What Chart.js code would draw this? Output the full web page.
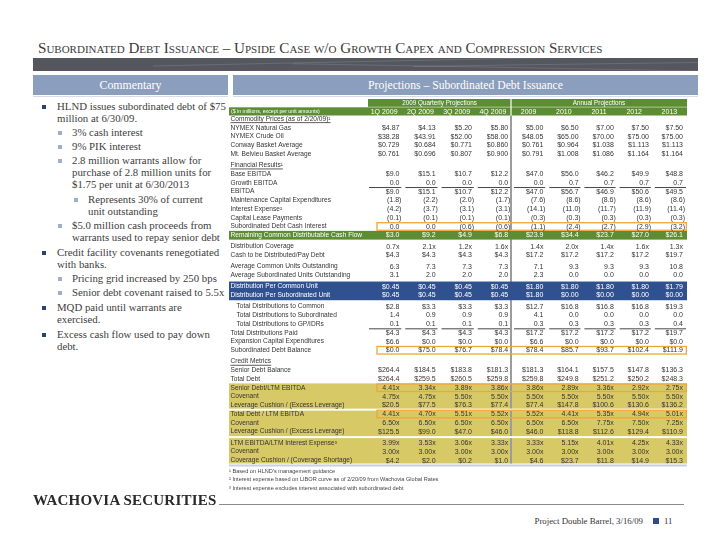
<!DOCTYPE html>
<html><head><meta charset="utf-8">
<script src="https://cdn.jsdelivr.net/npm/chart.js@4.4.1/dist/chart.umd.min.js"></script>
<style>
html,body{margin:0;padding:0;background:#fff;}
body{width:720px;height:556px;position:relative;overflow:hidden;font-family:"Liberation Serif",serif;color:#3d3d3d;}
.a{position:absolute;white-space:nowrap;}
#title{left:38px;top:41px;font-size:14px;line-height:14px;font-variant:small-caps;color:#3a3a3a;}
#band{left:33px;top:58px;width:665px;height:13px;background:#55575f;overflow:hidden;}
#band i{position:absolute;height:1px;background:rgba(255,255,255,0.13);width:420px;}
.hbox{top:75px;height:20px;background:#8b9ebd;color:#fff;text-align:center;line-height:20px;font-size:11.5px;}
.hline{top:96px;height:1px;background:#d9dce4;}
.c{position:absolute;white-space:nowrap;font-size:10.8px;line-height:11.8px;color:#3d3d3d;}
.c::before{content:"";position:absolute;width:4px;height:4px;top:4px;}
.l1{left:57px;}.l1::before{left:-15px;background:#2c4275;}
.l2{left:72px;}.l2::before{left:-14px;background:#9eaecb;}
.l3{left:88px;}.l3::before{left:-14px;background:#9eaecb;}
.fn{left:229px;font-family:"Liberation Sans",sans-serif;font-size:5.6px;line-height:7px;color:#444;}
#logo{left:33px;top:494px;font-size:13px;line-height:13px;font-weight:bold;color:#2a2a2a;letter-spacing:0.2px;}
#fline{left:219px;top:504px;width:465px;height:1px;background:#8a8a8a;}
#foot{right:77px;top:515px;font-size:8.8px;line-height:12px;color:#333;}
#fsq{left:653px;top:518px;width:6px;height:6px;background:#2f4c8c;}
#fnum{left:664px;top:515px;font-size:8.8px;line-height:12px;color:#333;}
</style></head>
<body>
<div id="title" class="a" data-w="556">Subordinated Debt Issuance – Upside Case w/o Growth Capex and Compression Services</div>
<div id="band" class="a"><i style="left:120px;top:3px;transform:rotate(-1.2deg)"></i><i style="left:260px;top:9px;transform:rotate(1deg)"></i><i style="left:380px;top:5px;transform:rotate(-0.8deg)"></i></div>
<div class="a hbox" style="left:33px;width:195px;"><span data-w="62">Commentary</span></div>
<div class="a hbox" style="left:233px;width:465px;"><span data-w="195">Projections – Subordinated Debt Issuance</span></div>
<div class="a hline" style="left:33px;width:195px;"></div>
<div class="a hline" style="left:233px;width:465px;"></div>

<div class="c l1" style="top:101px">HLND issues subordinated debt of $75<br>million at 6/30/09.</div>
<div class="c l2" style="top:127px">3% cash interest</div>
<div class="c l2" style="top:141px">9% PIK interest</div>
<div class="c l2" style="top:155px">2.8 million warrants allow for<br>purchase of 2.8 million units for<br>$1.75 per unit at 6/30/2013</div>
<div class="c l3" style="top:194px">Represents 30% of current<br>unit outstanding</div>
<div class="c l2" style="top:220px">$5.0 million cash proceeds from<br>warrants used to repay senior debt</div>
<div class="c l1" style="top:247px">Credit facility covenants renegotiated<br>with banks.</div>
<div class="c l2" style="top:273px">Pricing grid increased by 250 bps</div>
<div class="c l2" style="top:287px">Senior debt covenant raised to 5.5x</div>
<div class="c l1" style="top:302px">MQD paid until warrants are<br>exercised.</div>
<div class="c l1" style="top:329px">Excess cash flow used to pay down<br>debt.</div>

<canvas id="tbl" width="465" height="375" style="position:absolute;left:225px;top:95px;"></canvas>

<div class="a fn" style="top:467.5px">¹ Based on HLND's management guidance</div>
<div class="a fn" style="top:475.5px">² Interest expense based on LIBOR curve as of 2/20/09 from Wachovia Global Rates</div>
<div class="a fn" style="top:484.5px">³ Interest expense excludes interest associated with subordinated debt</div>

<div id="logo" class="a" data-w="184">WACHOVIA SECURITIES</div>
<div id="fline" class="a"></div>
<div id="foot" class="a">Project Double Barrel, 3/16/09</div>
<div id="fsq" class="a"></div>
<div id="fnum" class="a">11</div>

<script>
// ---------- DATA ----------
const columns = ['1Q 2009','2Q 2009','3Q 2009','4Q 2009','2009','2010','2011','2012','2013'];
const groupHeaders = ['2009 Quarterly Projections','Annual Projections'];
const unitNote = '($ in millions, except per unit amounts)';

const natGas = [4.87,4.13,5.20,5.80,5.00,6.50,7.00,7.50,7.50];
const crudeOil = [38.28,43.91,52.00,58.00,48.05,65.00,70.00,75.00,75.00];
const conwayBasket = [0.729,0.684,0.771,0.860,0.761,0.964,1.038,1.113,1.113];
const mtBelvieuBasket = [0.761,0.696,0.807,0.900,0.791,1.008,1.086,1.164,1.164];
const baseEbitda = [9.0,15.1,10.7,12.2,47.0,56.0,46.2,49.9,48.8];
const growthEbitda = [0.0,0.0,0.0,0.0,0.0,0.7,0.7,0.7,0.7];
const ebitda = [9.0,15.1,10.7,12.2,47.0,56.7,46.9,50.6,49.5];
const maintCapex = [-1.8,-2.2,-2.0,-1.7,-7.6,-8.6,-8.6,-8.6,-8.6];
const interestExpense = [-4.2,-3.7,-3.1,-3.1,-14.1,-11.0,-11.7,-11.9,-11.4];
const capitalLease = [-0.1,-0.1,-0.1,-0.1,-0.3,-0.3,-0.3,-0.3,-0.3];
const subDebtCashInterest = [0.0,0.0,-0.6,-0.6,-1.1,-2.4,-2.7,-2.9,-3.2];
const remainingCashFlow = [3.0,9.2,4.9,6.8,23.9,34.4,23.7,27.0,26.1];
const distributionCoverage = [0.7,2.1,1.2,1.6,1.4,2.0,1.4,1.6,1.3];
const cashToDistribute = [4.3,4.3,4.3,4.3,17.2,17.2,17.2,17.2,19.7];
const avgCommonUnits = [6.3,7.3,7.3,7.3,7.1,9.3,9.3,9.3,10.8];
const avgSubUnits = [3.1,2.0,2.0,2.0,2.3,0.0,0.0,0.0,0.0];
const distPerCommonUnit = [0.45,0.45,0.45,0.45,1.80,1.80,1.80,1.80,1.79];
const distPerSubUnit = [0.45,0.45,0.45,0.45,1.80,0.00,0.00,0.00,0.00];
const distToCommon = [2.8,3.3,3.3,3.3,12.7,16.8,16.8,16.8,19.3];
const distToSub = [1.4,0.9,0.9,0.9,4.1,0.0,0.0,0.0,0.0];
const distToGP = [0.1,0.1,0.1,0.1,0.3,0.3,0.3,0.3,0.4];
const distPaid = [4.3,4.3,4.3,4.3,17.2,17.2,17.2,17.2,19.7];
const expansionCapex = [6.6,0.0,0.0,0.0,6.6,0.0,0.0,0.0,0.0];
const subDebtBalance = [0.0,75.0,76.7,78.4,78.4,85.7,93.7,102.4,111.9];
const seniorDebtBalance = [264.4,184.5,183.8,181.3,181.3,164.1,157.5,147.8,136.3];
const totalDebt = [264.4,259.5,260.5,259.8,259.8,249.8,251.2,250.2,248.3];
const seniorDebtLeverage = [4.41,3.34,3.89,3.86,3.86,2.89,3.36,2.92,2.75];
const seniorCovenant = [4.75,4.75,5.50,5.50,5.50,5.50,5.50,5.50,5.50];
const seniorCushion = [20.5,77.5,76.3,77.4,77.4,147.8,100.6,130.6,136.2];
const totalDebtLeverage = [4.41,4.70,5.51,5.52,5.52,4.41,5.35,4.94,5.01];
const totalCovenant = [6.50,6.50,6.50,6.50,6.50,6.50,7.75,7.50,7.25];
const totalCushion = [125.5,99.0,47.0,46.0,46.0,118.8,112.6,129.4,110.9];
const interestCoverage = [3.99,3.53,3.06,3.33,3.33,5.15,4.01,4.25,4.33];
const coverageCovenant = [3.00,3.00,3.00,3.00,3.00,3.00,3.00,3.00,3.00];
const coverageCushion = [4.2,2.0,0.2,1.0,4.6,23.7,11.8,14.9,15.3];

const rowLabels = [
 'Commodity Prices (as of 2/20/09)¹','NYMEX Natural Gas','NYMEX Crude Oil','Conway Basket Average','Mt. Belvieu Basket Average',
 'Financial Results¹','Base EBITDA','Growth EBITDA','EBITDA','Maintenance Capital Expenditures','Interest Expense²','Capital Lease Payments','Subordinated Debt Cash Interest','Remaining Common Distributable Cash Flow',
 'Distribution Coverage','Cash to be Distributed/Pay Debt',
 'Average Common Units Outstanding','Average Subordinated Units Outstanding',
 'Distribution Per Common Unit','Distribution Per Subordinated Unit',
 'Total Distributions to Common','Total Distributions to Subordinated','Total Distributions to GP/IDRs','Total Distributions Paid','Expansion Capital Expenditures','Subordinated Debt Balance',
 'Credit Metrics','Senior Debt Balance','Total Debt',
 'Senior Debt/LTM EBITDA','Covenant','Leverage Cushion / (Excess Leverage)',
 'Total Debt / LTM EBITDA','Covenant','Leverage Cushion / (Excess Leverage)',
 'LTM EBITDA/LTM Interest Expense³','Covenant','Coverage Cushion / (Coverage Shortage)'
];
const rowValues = [
 null,natGas,crudeOil,conwayBasket,mtBelvieuBasket,
 null,baseEbitda,growthEbitda,ebitda,maintCapex,interestExpense,capitalLease,subDebtCashInterest,remainingCashFlow,
 distributionCoverage,cashToDistribute,
 avgCommonUnits,avgSubUnits,
 distPerCommonUnit,distPerSubUnit,
 distToCommon,distToSub,distToGP,distPaid,expansionCapex,subDebtBalance,
 null,seniorDebtBalance,totalDebt,
 seniorDebtLeverage,seniorCovenant,seniorCushion,
 totalDebtLeverage,totalCovenant,totalCushion,
 interestCoverage,coverageCovenant,coverageCushion
];
const rowFormats = [
 '', '$2','$2','$3','$3',
 '', '$1','n1','$1','n1','n1','n1','n1','$1',
 'x1','$1',
 'n1','n1',
 '$2','$2',
 '$1','n1','n1','$1','$1','$1',
 '', '$1','$1',
 'x2','x2','$1',
 'x2','x2','$1',
 'x2','x2','$1'
];

// ---------- LAYOUT / STYLE (not data) ----------
const colWeights = [1.03,1.03,1.03,1.03,1,1,1,1,1];
const colEdges = [0];
colWeights.forEach(w=> colEdges.push(colEdges[colEdges.length-1]+w));
const gapBefore = new Set([5,14,16,18,20,26,35]);
const indentRows = new Set([20,21,22]);
const sectionHeads = new Set([0,5,26]);
const underlineAfter = [7,22];
const orangeRows = [12,25,29,32];
const greenRows = [13];
const blueRows = [18,19];
const yellowFrom = 29;
const whiteSepBetween = [[31,32],[34,35]];
const GAP = 0.286;

const slots = [];
let s = -1;
rowLabels.forEach((l,i)=>{ s += 1 + (gapBefore.has(i)?GAP:0); slots.push(s); });
const yMin = -0.4, yMax = slots[slots.length-1] + 0.37;

function fmt(v,f){
  if (v===null||v===undefined) return '';
  const neg = v<0, a=Math.abs(v); let t;
  switch(f){
    case '$2': t='$'+a.toFixed(2); break;
    case '$3': t='$'+a.toFixed(3); break;
    case '$1': t='$'+a.toFixed(1); break;
    case 'x1': t=a.toFixed(1)+'x'; break;
    case 'x2': t=a.toFixed(2)+'x'; break;
    default: t=a.toFixed(1);
  }
  return neg ? '('+t+')' : t;
}

const SANS = '"Liberation Sans", Arial, sans-serif';
const tablePlugin = {
  id:'tablePlugin',
  afterDraw(chart){
    const ctx = chart.ctx, xs = chart.scales.x, ys = chart.scales.y, ca = chart.chartArea;
    const n = columns.length;
    const colL = i => xs.getPixelForValue(colEdges[i]);
    const colR = i => xs.getPixelForValue(colEdges[i+1]);
    const colC = i => (colL(i)+colR(i))/2;
    const rowY = r => ys.getPixelForValue(slots[r]);
    const half = Math.abs(ys.getPixelForValue(1) - ys.getPixelForValue(0))/2;
    const tL = 4, tR = ca.right;
    const divX = colR(3);
    ctx.save();

    // header band (two rows)
    const green = '#5d8d33';
    const h1t = ca.top-16.5, h1h = 7.8, h2t = ca.top-8.2, h2h = 8.2;
    ctx.fillStyle = green;
    ctx.fillRect(colL(0)+2, h1t, divX-(colL(0)+2)-0.6, h1h);
    ctx.fillRect(divX+0.6, h1t, tR-divX-0.6, h1h);
    ctx.fillRect(tL, h2t, divX-tL-0.6, h2h);
    ctx.fillRect(divX+0.6, h2t, tR-divX-0.6, h2h);
    ctx.fillStyle = '#fff';
    ctx.textBaseline = 'middle';
    ctx.textAlign = 'center';
    ctx.font = '6.3px '+SANS;
    ctx.fillText(groupHeaders[0], (colL(0)+2+divX)/2, h1t+h1h/2+0.3);
    ctx.fillText(groupHeaders[1], (divX+tR)/2, h1t+h1h/2+0.3);
    ctx.font = '7px '+SANS;
    columns.forEach((c,i)=> ctx.fillText(c, colC(i), h2t+h2h/2+0.3));
    ctx.textAlign = 'left';
    ctx.font = '5.2px '+SANS;
    ctx.fillText(unitNote, tL+2, h2t+h2h/2+0.3);

    // yellow block
    const yTop = rowY(yellowFrom)-half, yBot = ca.bottom;
    ctx.fillStyle = '#d8c967';
    ctx.fillRect(tL, yTop, tR-tL, yBot-yTop);

    // divider between quarterly and annual
    ctx.fillStyle = '#9c9c9c';
    ctx.fillRect(divX-1, ca.top, 2, ca.bottom-ca.top);

    // white separators in yellow
    ctx.fillStyle = '#fff';
    whiteSepBetween.forEach(([a,b])=>{
      const y = (rowY(a)+rowY(b))/2;
      ctx.fillRect(tL, y-1, tR-tL, 2);
    });

    // green / blue bands
    ctx.fillStyle = green;
    greenRows.forEach(r=> ctx.fillRect(tL, rowY(r)-half, tR-tL, 2*half));
    ctx.fillStyle = '#30518f';
    ctx.fillRect(tL, rowY(blueRows[0])-half-0.6, tR-tL, rowY(blueRows[1])-rowY(blueRows[0])+2*half+1.2);

    // orange boxes
    ctx.strokeStyle = '#f2a43a';
    ctx.lineWidth = 1.3;
    const boxL = colL(0)+11;
    orangeRows.forEach(r=> ctx.strokeRect(boxL, rowY(r)-half+0.6, tR-boxL-0.7, 2*half-1.2));

    // bottom rule
    ctx.fillStyle = '#c9cfe0';
    ctx.fillRect(tL, ca.bottom+1, tR-tL, 2);

    // text
    rowLabels.forEach((lab,r)=>{
      const y = rowY(r);
      const onDark = greenRows.includes(r) || blueRows.includes(r);
      ctx.fillStyle = onDark ? '#fff' : '#353535';
      ctx.textAlign = 'left';
      ctx.font = '6.6px '+SANS;
      const lx = tL + 1.5 + (indentRows.has(r)?6:0);
      ctx.fillText(lab, lx, y);
      if (sectionHeads.has(r)) {
        const w = ctx.measureText(lab).width;
        ctx.fillRect(lx, y+3.3, w, 0.8);
      }
      const vals = rowValues[r];
      if (!vals) return;
      ctx.font = '7px '+SANS;
      ctx.textAlign = 'right';
      vals.forEach((v,i)=>{
        const pad = (i===n-1) ? 4 : 2.8;
        const xr = colR(i) - pad + (v<0 ? 2 : 0);
        ctx.fillText(fmt(v, rowFormats[r]), xr, y+0.3);
      });
    });

    // column underlines
    ctx.fillStyle = '#333';
    underlineAfter.forEach(r=>{
      const y = (rowY(r)+rowY(r+1))/2;
      for (let i=0;i<n;i++) ctx.fillRect(colL(i)+3, y, colR(i)-colL(i)-4, 0.9);
    });
    ctx.restore();
  }
};

new Chart(document.getElementById('tbl'), {
  type:'scatter',
  data:{ datasets: [] },
  options:{
    responsive:false, animation:false, devicePixelRatio:1,
    layout:{ padding:{ left:141, right:3, top:20.5, bottom:6.5 } },
    plugins:{ legend:{display:false}, tooltip:{enabled:false} },
    scales:{
      x:{ type:'linear', min:0, max:colEdges[colEdges.length-1], display:false },
      y:{ type:'linear', reverse:true, min:yMin, max:yMax, display:false }
    }
  },
  plugins:[tablePlugin]
});

// fit selected texts to measured widths
document.querySelectorAll('[data-w]').forEach(el=>{
  const target = +el.dataset.w;
  const fs = parseFloat(getComputedStyle(el).fontSize);
  const w = el.getBoundingClientRect().width;
  if (w>0) el.style.fontSize = (fs*target/w).toFixed(2)+'px';
});
</script>
</body></html>
